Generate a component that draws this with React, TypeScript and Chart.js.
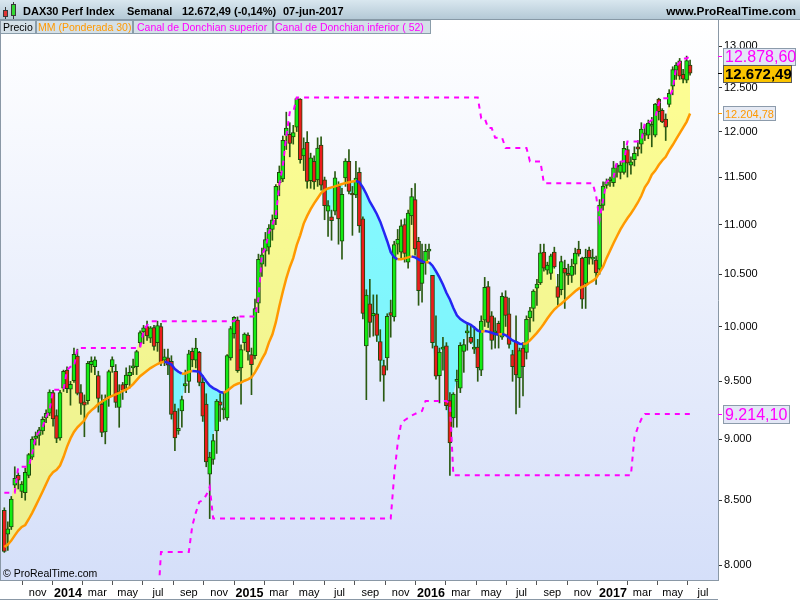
import React, { useEffect, useRef } from 'react';
import { Chart, registerables } from 'chart.js';

Chart.register(...registerables);

// ---------- DATA (weekly DAX30, first candle = week of 2013-08-26) ----------
const FIRST_WEEK = '2013-08-26';

const OPEN = [
  8420, 8235, 8290, 8620, 8700, 8570, 8560, 8700, 8850, 9005,
  9030, 9070, 9180, 9220, 9400, 9200, 9010, 9440, 9600, 9430,
  9505, 9727, 9400, 9320, 9330, 9650, 9630, 9550, 9300, 9060,
  9360, 9630, 9590, 9270, 9470, 9470, 9550, 9620, 9630, 9850,
  9950, 10000, 9890, 9990, 9850, 10000, 9690, 9710, 9680, 9240,
  9070, 9240, 9460, 9500, 9770, 9690, 9760, 9490, 9300, 8710,
  8830, 9070, 9320, 9250, 9180, 9710, 9930, 10060, 9620, 9850,
  9920, 9740, 9730, 10220, 10600, 10730, 10770, 10950, 11060, 11440,
  11480, 11960, 11970, 11940, 12050, 12370, 11730, 11880, 11460, 11670,
  11470, 11850, 11470, 11140, 11080, 11140, 11400, 10830, 11490, 11670,
  11320, 11310, 11550, 11060, 9820, 10215, 10100, 10120, 9860, 9640,
  9710, 10130, 10090, 10800, 10720, 11000, 10620, 11090, 11260, 10830,
  10410, 10620, 10730, 10490, 9820, 9550, 9790, 9820, 9330, 9180,
  9500, 9440, 9770, 9940, 9900, 9790, 9810, 9600, 10060, 10380,
  10100, 9940, 10030, 9900, 10280, 10120, 9740, 9860, 9530, 9800,
  9760, 10080, 10170, 10365, 10415, 10720, 10540, 10510, 10720, 10380,
  10350, 10560, 10500, 10490, 10600, 10750, 10660, 10410, 10740, 10650,
  10640, 10550, 11200, 11410, 11460, 11440, 11610, 11550, 11550, 11800,
  11630, 11690, 11830, 11860, 11960, 11960, 12060, 11960, 12370, 12240,
  12140, 12310, 12520, 12710, 12820, 12660, 12590, 12770,
];

const HIGH = [
  8440, 8330, 8530, 8770, 8720, 8650, 8760, 8880, 9020, 9060,
  9100, 9190, 9250, 9425, 9420, 9250, 9420, 9600, 9630, 9500,
  9800, 9790, 9470, 9380, 9680, 9720, 9720, 9590, 9380, 9380,
  9600, 9720, 9650, 9470, 9490, 9620, 9640, 9700, 9780, 9960,
  10010, 10050, 10000, 10010, 10050, 10030, 9790, 9790, 9730, 9300,
  9260, 9370, 9600, 9780, 9800, 9890, 9770, 9550, 9390, 8890,
  9040, 9340, 9390, 9400, 9740, 10000, 10093, 10090, 9830, 9940,
  9940, 9800, 10260, 10700, 10760, 10920, 11000, 11100, 11420, 11620,
  11950, 12220, 12100, 12070, 12390, 12375, 11930, 12000, 11760, 11730,
  11930, 11940, 11500, 11250, 11150, 11560, 11450, 11380, 11700, 11800,
  11400, 11670, 11600, 11080, 10350, 10450, 10300, 10300, 9970, 9690,
  10120, 10250, 10830, 10950, 11050, 11060, 11150, 11380, 11430, 10870,
  10800, 10800, 10800, 10490, 10100, 9800, 9900, 9850, 9400, 9400,
  9600, 9850, 9880, 10020, 10010, 10000, 9880, 10100, 10470, 10430,
  10140, 10080, 10050, 10320, 10340, 10270, 9780, 10100, 9800, 9850,
  10100, 10180, 10350, 10450, 10800, 10800, 10620, 10700, 10770, 10500,
  10680, 10640, 10600, 10650, 10760, 10830, 10670, 10750, 10770, 10750,
  10680, 11260, 11450, 11480, 11500, 11670, 11650, 11670, 11890, 11840,
  11720, 11830, 11900, 12100, 12080, 12130, 12160, 12320, 12380, 12260,
  12200, 12480, 12750, 12800, 12850, 12720, 12878, 12830,
];

const LOW = [
  8095, 8110, 8270, 8600, 8590, 8520, 8500, 8680, 8830, 8950,
  8950, 9040, 9140, 9200, 9110, 8970, 8990, 9410, 9400, 9290,
  9490, 9380, 9210, 9020, 9300, 9580, 9560, 9230, 9020, 8960,
  9280, 9580, 9270, 9100, 9340, 9400, 9440, 9560, 9560, 9810,
  9840, 9870, 9850, 9780, 9770, 9640, 9640, 9560, 9170, 8903,
  9040, 9100, 9400, 9400, 9630, 9620, 9460, 9150, 8770, 8355,
  8790, 8880, 9150, 9170, 9160, 9690, 9890, 9580, 9300, 9780,
  9690, 9382, 9700, 10130, 10480, 10580, 10700, 10840, 11000, 11300,
  11450, 11800, 11720, 11860, 12000, 11650, 11570, 11380, 11380, 11370,
  11400, 11360, 11050, 10880, 10840, 11100, 10800, 10650, 11400, 11320,
  10890, 11280, 10920, 10070, 9338, 9900, 9910, 9860, 9500, 9325,
  9600, 9900, 10050, 10700, 10650, 10620, 10560, 11000, 10690, 10200,
  10230, 10500, 10650, 9800, 9520, 9310, 9600, 9250, 8699, 9100,
  9100, 9400, 9580, 9780, 9840, 9750, 9500, 9550, 10000, 9990,
  9790, 9800, 9800, 9880, 10000, 9800, 9500, 9214, 9270, 9370,
  9700, 9950, 10050, 10200, 10400, 10530, 10500, 10450, 10560, 10200,
  10300, 10170, 10400, 10420, 10500, 10680, 10170, 10170, 10600, 10600,
  10400, 10500, 11150, 11380, 11400, 11400, 11500, 11480, 11530, 11500,
  11530, 11620, 11730, 11760, 11900, 11920, 11830, 11940, 12130, 12100,
  11900, 12280, 12420, 12600, 12600, 12560, 12560, 12650,
];

const CLOSE = [
  8103, 8276, 8509, 8675, 8661, 8630, 8725, 8870, 9001, 9025,
  9079, 9168, 9220, 9405, 9172, 9006, 9400, 9590, 9435, 9473,
  9742, 9393, 9306, 9290, 9662, 9680, 9692, 9350, 9056, 9342,
  9587, 9695, 9315, 9409, 9420, 9556, 9581, 9630, 9768, 9943,
  9987, 9912, 9987, 9815, 10009, 9666, 9720, 9644, 9210, 9010,
  9092, 9339, 9480, 9747, 9691, 9799, 9490, 9195, 8810, 8850,
  8988, 9326, 9291, 9265, 9732, 9980, 10087, 9594, 9787, 9930,
  9765, 9648, 10168, 10649, 10694, 10846, 10963, 11050, 11401, 11551,
  11901, 12039, 11868, 11990, 12375, 11689, 11811, 11454, 11709, 11447,
  11815, 11413, 11197, 11197, 11040, 11492, 11058, 11316, 11673, 11347,
  11309, 11490, 10985, 10124, 10298, 10038, 10123, 9916, 9688, 9554,
  10096, 10104, 10795, 10850, 10988, 10708, 11119, 11293, 10752, 10340,
  10608, 10727, 10743, 9849, 9545, 9764, 9798, 9286, 8967, 9388,
  9513, 9824, 9831, 9950, 9851, 9794, 9622, 10051, 10373, 10039,
  9870, 9960, 9917, 10287, 10103, 9834, 9631, 9557, 9776, 9630,
  10067, 10147, 10337, 10405, 10713, 10560, 10590, 10684, 10573, 10276,
  10627, 10511, 10490, 10580, 10711, 10700, 10259, 10668, 10665, 10660,
  10513, 11203, 11404, 11450, 11481, 11599, 11629, 11630, 11814, 11651,
  11666, 11757, 11804, 12027, 11963, 12095, 12064, 12313, 12225, 12109,
  12049, 12438, 12717, 12770, 12638, 12602, 12823, 12672.49,
];

// Weighted moving average (30)
const MA30 = [
  8135, 8155, 8185, 8225, 8262, 8290, 8305, 8350, 8400, 8455,
  8512, 8570, 8630, 8690, 8725, 8745, 8780, 8850, 8935, 9005,
  9060, 9100, 9130, 9160, 9215, 9245, 9270, 9300, 9320, 9340,
  9358, 9372, 9385, 9397, 9415, 9426, 9447, 9475, 9510, 9545,
  9570, 9595, 9618, 9637, 9655, 9668, 9676, 9668, 9650, 9610,
  9585, 9568, 9570, 9585, 9592, 9590, 9584, 9545, 9500, 9462,
  9440, 9425, 9405, 9398, 9415, 9440, 9465, 9478, 9488, 9505,
  9518, 9535, 9580, 9635, 9700, 9755, 9850, 9925, 10040, 10190,
  10330, 10460, 10570, 10660, 10790, 10890, 11010, 11090, 11160, 11220,
  11275, 11330, 11360, 11378, 11390, 11400, 11412, 11425, 11435, 11445,
  11452, 11458, 11445, 11390, 11320, 11238, 11175, 11110, 11030, 10930,
  10830, 10720, 10668, 10648, 10650, 10658, 10668, 10678, 10668, 10648,
  10628, 10618, 10620, 10585, 10530, 10470, 10400, 10320, 10255, 10175,
  10105, 10070, 10048, 10030, 10016, 9990, 9962, 9950, 9958, 9952,
  9941, 9930, 9926, 9930, 9920, 9895, 9870, 9856, 9840, 9837,
  9843, 9870, 9905, 9940, 9980, 10025, 10075, 10120, 10160, 10190,
  10215, 10245, 10275, 10305, 10335, 10360, 10378, 10390, 10415, 10435,
  10462, 10520, 10575, 10660, 10735, 10810, 10880, 10950, 11010, 11065,
  11115, 11170, 11230, 11300, 11390, 11445, 11525, 11570, 11630, 11680,
  11720, 11790, 11850, 11915, 11980, 12045, 12110, 12204.78,
];

// Donchian channel (52)
const DONCHIAN_UP = [
  8560, 8560, 8560, 8560, 8770, 8770, 8770, 8770, 8880, 9020,
  9060, 9100, 9190, 9250, 9425, 9425, 9425, 9425, 9600, 9630,
  9630, 9800, 9800, 9800, 9800, 9800, 9800, 9800, 9800, 9800,
  9800, 9800, 9800, 9800, 9800, 9800, 9800, 9800, 9800, 9800,
  9960, 10010, 10050, 10050, 10050, 10050, 10050, 10050, 10050, 10050,
  10050, 10050, 10050, 10050, 10050, 10050, 10050, 10050, 10050, 10050,
  10050, 10050, 10050, 10050, 10050, 10050, 10050, 10093, 10093, 10093,
  10093, 10093, 10093, 10260, 10700, 10760, 10920, 11000, 11100, 11420,
  11620, 11950, 12220, 12220, 12390, 12390, 12390, 12390, 12390, 12390,
  12390, 12390, 12390, 12390, 12390, 12390, 12390, 12390, 12390, 12390,
  12390, 12390, 12390, 12390, 12390, 12390, 12390, 12390, 12390, 12390,
  12390, 12390, 12390, 12390, 12390, 12390, 12390, 12390, 12390, 12390,
  12390, 12390, 12390, 12390, 12390, 12390, 12390, 12390, 12390, 12390,
  12390, 12390, 12390, 12390, 12390, 12390, 12390, 12150, 12150, 12040,
  12040, 11930, 11930, 11930, 11817, 11817, 11817, 11817, 11817, 11817,
  11817, 11670, 11670, 11670, 11670, 11433, 11433, 11433, 11433, 11433,
  11433, 11433, 11433, 11433, 11433, 11433, 11433, 11433, 11433, 11433,
  11300, 11050, 11260, 11450, 11480, 11500, 11670, 11670, 11670, 11890,
  11890, 11890, 11890, 11900, 12100, 12100, 12130, 12160, 12320, 12380,
  12380, 12380, 12480, 12750, 12800, 12850, 12850, 12878.6,
];

const DONCHIAN_LOW = [
  7656, 7656, 7656, 7656, 7656, 7656, 7656, 7656, 7656, 7656,
  7656, 7656, 7656, 7656, 7656, 7656, 7656, 7656, 7656, 7656,
  7656, 7656, 7656, 7656, 7656, 7656, 7656, 7656, 7656, 7656,
  7656, 7656, 7656, 7656, 7656, 7656, 7656, 7656, 7656, 7656,
  7656, 7656, 7656, 7656, 7656, 8098, 8098, 8098, 8098, 8098,
  8098, 8098, 8098, 8098, 8300, 8400, 8486, 8500, 8540, 8606,
  8355, 8355, 8355, 8355, 8355, 8355, 8355, 8355, 8355, 8355,
  8355, 8355, 8355, 8355, 8355, 8355, 8355, 8355, 8355, 8355,
  8355, 8355, 8355, 8355, 8355, 8355, 8355, 8355, 8355, 8355,
  8355, 8355, 8355, 8355, 8355, 8355, 8355, 8355, 8355, 8355,
  8355, 8355, 8355, 8355, 8355, 8355, 8355, 8355, 8355, 8355,
  8355, 8355, 8700, 8965, 9134, 9160, 9180, 9200, 9214, 9230,
  9240, 9327, 9327, 9327, 9327, 9327, 9327, 9327, 9300, 8700,
  8700, 8700, 8700, 8700, 8700, 8700, 8700, 8700, 8700, 8700,
  8700, 8700, 8700, 8700, 8700, 8700, 8700, 8700, 8700, 8700,
  8700, 8700, 8700, 8700, 8700, 8700, 8700, 8700, 8700, 8700,
  8700, 8700, 8700, 8700, 8700, 8700, 8700, 8700, 8700, 8700,
  8700, 8700, 8700, 8700, 8700, 8700, 8700, 8700, 8700, 8700,
  8700, 9013, 9100, 9170, 9214.1, 9214.1, 9214.1, 9214.1, 9214.1, 9214.1,
  9214.1, 9214.1, 9214.1, 9214.1, 9214.1, 9214.1, 9214.1, 9214.1,
];

const X_TICK_DATES = [
  '2013-11-01', '2014-01-01', '2014-03-01', '2014-05-01', '2014-07-01', '2014-09-01',
  '2014-11-01', '2015-01-01', '2015-03-01', '2015-05-01', '2015-07-01', '2015-09-01',
  '2015-11-01', '2016-01-01', '2016-03-01', '2016-05-01', '2016-07-01', '2016-09-01',
  '2016-11-01', '2017-01-01', '2017-03-01', '2017-05-01', '2017-07-01',
];
const X_TICK_LABELS = [
  'nov', '2014', 'mar', 'may', 'jul', 'sep',
  'nov', '2015', 'mar', 'may', 'jul', 'sep',
  'nov', '2016', 'mar', 'may', 'jul', 'sep',
  'nov', '2017', 'mar', 'may', 'jul',
];
const Y_TICKS = [8000, 8500, 9000, 9500, 10000, 10500, 11000, 11500, 12000, 12500, 13000];

const TITLE = 'DAX30 Perf Index';
const PERIOD = 'Semanal';
const LAST_CHANGE_PCT = -0.14;
const LAST_DATE = '07-jun-2017';
const LEGEND_ITEMS = ['Precio', 'MM (Ponderada 30)', 'Canal de Donchian superior', 'Canal de Donchian inferior ( 52)'];

// ---------- STYLE ----------
const FONT = '"Liberation Sans", Arial, Helvetica, sans-serif';
const ORANGE = '#ff9900';
const BLUE = '#2626f2';
const MAGENTA = '#ff00ff';
const GREEN = '#14ec14';
const RED = '#ec1c1c';
const CANDLE_EDGE = '#1c4a0c';
const WICK = '#2a5a12';

const Y_MIN = 7888.6;
const Y_MAX = 13320.1;
const X_MIN = -1.244;
const X_MAX = 205.02;

function fmtDE(v: number, d: number): string {
  const s = Math.abs(v).toFixed(d);
  const [ip, dp] = s.split('.');
  const intF = ip.replace(/\B(?=(\d{3})+(?!\d))/g, '.');
  return (v < 0 ? '-' : '') + (dp ? intF + ',' + dp : intF);
}

function weekValue(date: string): number {
  return (Date.parse(date) - Date.parse(FIRST_WEEK)) / (7 * 86400000);
}

const X_TICK_VALUES = X_TICK_DATES.map(weekValue);

function drawValueBox(ctx: CanvasRenderingContext2D, y: number, w: number, h: number, text: string,
  font: string, color: string, bg: string, border: string, tickColor: string) {
  const x = 723;
  const top = Math.round(y - h / 2) + 0.5;
  ctx.fillStyle = bg;
  ctx.fillRect(x + 0.5, top, w, h);
  ctx.strokeStyle = border;
  ctx.lineWidth = 1;
  ctx.strokeRect(x + 0.5, top, w, h);
  ctx.font = font;
  ctx.fillStyle = color;
  ctx.textBaseline = 'middle';
  ctx.textAlign = 'left';
  ctx.fillText(text, x + 2, top + h / 2 + 1);
  ctx.strokeStyle = tickColor;
  ctx.beginPath();
  ctx.moveTo(718, Math.round(y) + 0.5);
  ctx.lineTo(722, Math.round(y) + 0.5);
  ctx.stroke();
}

const backgroundPlugin = {
  id: 'prtBackground',
  beforeDraw(chart: any) {
    const { ctx, chartArea: a } = chart;
    ctx.save();
    ctx.fillStyle = '#ffffff';
    ctx.fillRect(0, 0, chart.width, chart.height);
    const g = ctx.createLinearGradient(0, a.top, 0, a.bottom);
    g.addColorStop(0, '#ffffff');
    g.addColorStop(1, '#d5dff9');
    ctx.fillStyle = g;
    ctx.fillRect(a.left, a.top, a.right - a.left, a.bottom - a.top);
    ctx.restore();
  },
};

const overlayPlugin = {
  id: 'prtOverlay',
  afterDraw(chart: any) {
    const { ctx, chartArea: a } = chart;
    const yScale = chart.scales.y;
    ctx.save();

    // header bar
    const hg = ctx.createLinearGradient(0, 0, 0, 19);
    hg.addColorStop(0, '#d9e7ef');
    hg.addColorStop(1, '#b4c9d6');
    ctx.fillStyle = hg;
    ctx.fillRect(0, 0, chart.width, 19);
    ctx.strokeStyle = '#8799a6';
    ctx.lineWidth = 1;
    ctx.beginPath();
    ctx.moveTo(0, 19.5);
    ctx.lineTo(chart.width, 19.5);
    ctx.stroke();

    // header icon (two small candles)
    ctx.strokeStyle = '#3a3a3a';
    ctx.beginPath();
    ctx.moveTo(5.5, 7); ctx.lineTo(5.5, 19);
    ctx.moveTo(13.5, 2); ctx.lineTo(13.5, 19);
    ctx.stroke();
    ctx.fillStyle = '#e03434';
    ctx.fillRect(3, 10, 5, 7);
    ctx.strokeRect(3.5, 10.5, 4, 6);
    ctx.fillStyle = '#34d834';
    ctx.fillRect(11, 4, 5, 12);
    ctx.strokeRect(11.5, 4.5, 4, 11);

    // header texts
    ctx.fillStyle = '#000';
    ctx.font = `bold 11px ${FONT}`;
    ctx.textBaseline = 'alphabetic';
    ctx.textAlign = 'left';
    const lastClose = CLOSE[CLOSE.length - 1];
    ctx.fillText(TITLE, 23, 15);
    ctx.fillText(PERIOD, 127, 15);
    ctx.fillText(`${fmtDE(lastClose, 2)} (${fmtDE(LAST_CHANGE_PCT, 2)}%)`, 182, 15);
    ctx.fillText(LAST_DATE, 283, 15);
    ctx.font = `bold 11.8px ${FONT}`;
    ctx.textAlign = 'right';
    ctx.fillText('www.ProRealTime.com', 796, 15);

    // legend boxes
    const boxes = [
      { x0: 0, x1: 35, tx: 3, color: '#000000' },
      { x0: 36, x1: 132, tx: 38, color: ORANGE },
      { x0: 133, x1: 272, tx: 137, color: MAGENTA },
      { x0: 273, x1: 430, tx: 275, color: MAGENTA },
    ];
    ctx.font = `10.5px ${FONT}`;
    ctx.textAlign = 'left';
    boxes.forEach((b, i) => {
      ctx.fillStyle = '#d4e0e8';
      ctx.fillRect(b.x0 + 0.5, 20.5, b.x1 - b.x0, 13);
      ctx.strokeStyle = '#8a9daa';
      ctx.strokeRect(b.x0 + 0.5, 20.5, b.x1 - b.x0, 13);
      ctx.fillStyle = b.color;
      ctx.fillText(LEGEND_ITEMS[i], b.tx, 31);
    });

    // left border of plot and bottom border of canvas
    ctx.strokeStyle = '#8a98a6';
    ctx.beginPath();
    ctx.moveTo(0.5, a.top);
    ctx.lineTo(0.5, a.bottom);
    ctx.moveTo(0, chart.height - 0.5);
    ctx.lineTo(a.right, chart.height - 0.5);
    ctx.stroke();

    // copyright
    ctx.fillStyle = '#000';
    ctx.font = `10.5px ${FONT}`;
    ctx.textAlign = 'left';
    ctx.fillText('\u00a9 ProRealTime.com', 3, 577);

    // value boxes on the right axis
    const up = DONCHIAN_UP[DONCHIAN_UP.length - 1];
    const lo = DONCHIAN_LOW[DONCHIAN_LOW.length - 1];
    const ma = MA30[MA30.length - 1];
    drawValueBox(ctx, yScale.getPixelForValue(up), 72, 17, fmtDE(up, 2), `16px ${FONT}`, MAGENTA, '#e3e7f6', '#8c9bab', MAGENTA);
    drawValueBox(ctx, yScale.getPixelForValue(lastClose), 68, 17, fmtDE(lastClose, 2), `bold 15px ${FONT}`, '#000', '#fbc400', '#5a5a5a', '#000');
    drawValueBox(ctx, yScale.getPixelForValue(ma), 52, 14, fmtDE(ma, 2), `11px ${FONT}`, ORANGE, '#e6eaf4', '#8c9bab', ORANGE);
    drawValueBox(ctx, yScale.getPixelForValue(lo), 66, 18, fmtDE(lo, 2), `16px ${FONT}`, MAGENTA, '#e3e7f6', '#8c9bab', MAGENTA);

    ctx.restore();
  },
};

export default function App() {
  const canvasRef = useRef<HTMLCanvasElement | null>(null);

  useEffect(() => {
    document.body.style.margin = '0';
    document.body.style.overflow = 'hidden';
    const canvas = canvasRef.current;
    if (!canvas) return;

    const idx = CLOSE.map((_, i) => i);
    const chart = new Chart(canvas, {
      type: 'bar',
      data: {
        datasets: [
          {
            type: 'line',
            label: 'fill',
            data: idx.map((i) => ({ x: i, y: CLOSE[i] })),
            borderColor: 'rgba(0,0,0,0)',
            borderWidth: 1,
            pointRadius: 0,
            fill: { target: 1, above: 'rgba(255,255,40,0.5)', below: 'rgba(0,255,255,0.45)' },
            order: 10,
          } as any,
          {
            type: 'line',
            label: 'MM (Ponderada 30)',
            data: idx.map((i) => ({ x: i, y: MA30[i] })),
            borderColor: ORANGE,
            borderWidth: 2.5,
            pointRadius: 0,
            fill: false,
            segment: {
              borderColor: (c: any) => (c.p1.parsed.y >= c.p0.parsed.y ? ORANGE : BLUE),
            },
            order: 2,
          } as any,
          {
            type: 'bar',
            label: 'wick',
            data: idx.map((i) => ({ x: i, y: [LOW[i], HIGH[i]] })),
            backgroundColor: WICK,
            borderWidth: 0,
            barThickness: 1,
            grouped: false,
            order: 5,
          } as any,
          {
            type: 'bar',
            label: 'Precio',
            data: idx.map((i) => ({ x: i, y: [OPEN[i], CLOSE[i]] })),
            backgroundColor: idx.map((i) => (CLOSE[i] >= OPEN[i] ? GREEN : RED)),
            borderColor: CANDLE_EDGE,
            borderWidth: 1,
            borderSkipped: false,
            barThickness: 4,
            minBarLength: 2,
            grouped: false,
            order: 4,
          } as any,
          {
            type: 'line',
            label: 'Canal de Donchian superior',
            data: idx.map((i) => ({ x: i, y: DONCHIAN_UP[i] })),
            borderColor: MAGENTA,
            borderWidth: 2,
            borderDash: [5, 5],
            pointRadius: 0,
            fill: false,
            order: 1,
          } as any,
          {
            type: 'line',
            label: 'Canal de Donchian inferior ( 52)',
            data: idx.map((i) => ({ x: i, y: DONCHIAN_LOW[i] })),
            borderColor: MAGENTA,
            borderWidth: 2,
            borderDash: [5, 5],
            pointRadius: 0,
            fill: false,
            order: 1,
          } as any,
        ],
      },
      options: {
        responsive: false,
        animation: false,
        devicePixelRatio: 1,
        events: [],
        layout: { padding: { top: 20, left: 0, right: 0, bottom: 0 } },
        plugins: {
          legend: { display: false },
          tooltip: { enabled: false },
          title: { display: false },
        },
        scales: {
          x: {
            type: 'linear',
            min: X_MIN,
            max: X_MAX,
            offset: false,
            afterBuildTicks: (s: any) => {
              s.ticks = X_TICK_VALUES.map((v) => ({ value: v }));
            },
            afterFit: (s: any) => {
              s.height = 20;
            },
            ticks: {
              autoSkip: false,
              maxRotation: 0,
              padding: 1,
              color: '#000',
              callback: (_v: any, i: number) => X_TICK_LABELS[i],
              font: (c: any) => {
                const lbl = X_TICK_LABELS[c.index] || '';
                const isYear = /^\d{4}$/.test(lbl);
                return { family: FONT, size: isYear ? 12.5 : 11, weight: isYear ? 'bold' : 'normal' };
              },
            },
            grid: { drawOnChartArea: false, drawTicks: true, tickLength: 5, color: '#555' },
            border: { display: true, color: '#8a98a6' },
          } as any,
          y: {
            type: 'logarithmic',
            position: 'right',
            min: Y_MIN,
            max: Y_MAX,
            afterBuildTicks: (s: any) => {
              s.ticks = Y_TICKS.map((v) => ({ value: v }));
            },
            afterFit: (s: any) => {
              s.width = 82;
            },
            ticks: {
              padding: 2,
              color: '#000',
              font: { family: FONT, size: 11 },
              callback: (v: any) => fmtDE(Number(v), 0),
            },
            grid: { drawOnChartArea: false, drawTicks: true, tickLength: 4, color: '#333' },
            border: { display: true, color: '#8a98a6' },
          } as any,
        },
      },
      plugins: [backgroundPlugin, overlayPlugin],
    } as any);

    return () => {
      chart.destroy();
    };
  }, []);

  return (
    <div style={{ width: 800, height: 600, position: 'relative' }}>
      <canvas ref={canvasRef} width={800} height={600} style={{ display: 'block' }} />
    </div>
  );
}
